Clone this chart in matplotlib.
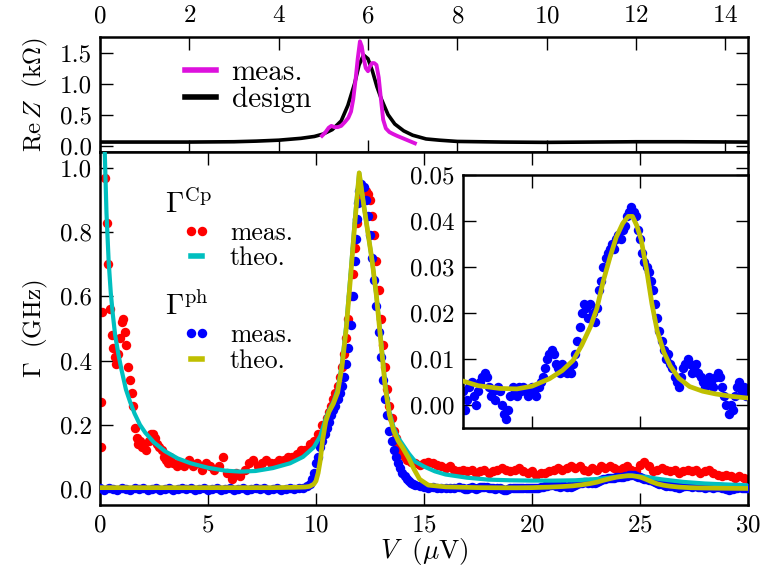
import matplotlib
matplotlib.use("Agg")
import matplotlib.pyplot as plt
from matplotlib.lines import Line2D
from matplotlib.ticker import FormatStrFormatter, MultipleLocator

# ---------------- data ----------------
# Re Z of the environment versus frequency (GHz)
f_design = [0.0, 1.0, 2.0, 3.0, 3.5, 4.0, 4.5, 4.8, 5.0, 5.2, 5.4, 5.55, 5.7, 5.8,
            5.9, 6.0, 6.1, 6.2, 6.3, 6.45, 6.6, 6.8, 7.0, 7.3, 7.6, 8.0, 9.0, 10.0,
            11.0, 12.0, 13.0, 14.51]
z_design = [0.06, 0.06, 0.06, 0.065, 0.075, 0.09, 0.12, 0.15, 0.19, 0.26, 0.40, 0.65,
            1.00, 1.30, 1.46, 1.40, 1.20, 0.95, 0.75, 0.50, 0.35, 0.24, 0.17, 0.11,
            0.09, 0.07, 0.06, 0.055, 0.06, 0.065, 0.065, 0.06]
f_meas = [4.97, 5.05, 5.12, 5.18, 5.25, 5.32, 5.40, 5.48, 5.56, 5.62, 5.67, 5.72,
          5.77, 5.82, 5.86, 5.90, 5.95, 6.00, 6.04, 6.09, 6.14, 6.19, 6.24, 6.29,
          6.34, 6.40, 6.48, 6.56, 6.65, 6.75, 6.85, 6.95, 7.05]
z_meas = [0.16, 0.22, 0.29, 0.32, 0.30, 0.30, 0.32, 0.38, 0.45, 0.55, 0.75, 1.05,
          1.40, 1.68, 1.60, 1.42, 1.25, 1.20, 1.27, 1.33, 1.33, 1.30, 1.10, 0.75,
          0.42, 0.28, 0.22, 0.19, 0.16, 0.13, 0.10, 0.07, 0.04]

# Cooper-pair rate: measured points and theory (V in uV, rate in GHz)
cp_v = [0.03, 0.06, 0.09, 0.23, 0.31, 0.39, 0.46, 0.55, 0.62, 0.69, 0.76, 0.84, 0.92,
        1.0, 1.07, 1.15, 1.22, 1.3, 1.38, 1.46, 1.54, 1.62, 1.7, 1.78, 1.86, 1.95,
        2.05, 2.15, 2.25, 2.35, 2.45, 2.55, 2.65, 2.75, 2.85, 2.95, 3.05, 3.15, 3.25,
        3.4, 3.55, 3.7, 3.9, 4.1, 4.3, 4.5, 4.7, 4.9, 5.1, 5.3, 5.5, 5.7, 5.9, 6.1,
        6.3, 6.5, 6.7, 6.9, 7.1, 7.3, 7.5, 7.7, 7.9, 8.1, 8.3, 8.5, 8.7, 8.9, 9.1,
        9.3, 9.5, 9.7, 9.9, 10.1, 10.3, 10.5, 10.6, 10.7, 10.8, 10.9, 11.0, 11.1,
        11.2, 11.3, 11.4, 11.5, 11.6, 11.7, 11.8, 11.9, 12.0, 12.1, 12.2, 12.3,
        12.4, 12.5, 12.6, 12.7, 12.8, 12.9, 13.0, 13.1, 13.2, 13.3, 13.4, 13.5,
        13.6, 13.7, 13.8, 13.9, 14.0, 14.1, 14.2, 14.4, 14.6, 14.8, 15.0, 15.2,
        15.4, 15.6, 15.8, 16.0, 16.2, 16.4, 16.6, 16.8, 17.0, 17.2, 17.4, 17.6,
        17.8, 18.0, 18.2, 18.4, 18.6, 18.8, 19.0, 19.2, 19.4, 19.6, 19.8, 20.0,
        20.2, 20.4, 20.6, 20.8, 21.0, 21.2, 21.4, 21.6, 21.8, 22.0, 22.2, 22.4,
        22.6, 22.8, 23.0, 23.2, 23.4, 23.6, 23.8, 24.0, 24.2, 24.4, 24.6, 24.8,
        25.0, 25.2, 25.4, 25.6, 25.8, 26.0, 26.2, 26.4, 26.6, 26.8, 27.0, 27.2,
        27.4, 27.6, 27.8, 28.0, 28.2, 28.4, 28.6, 28.8, 29.0, 29.2, 29.4, 29.6,
        29.8, 30.0]
cp_meas = [0.13, 0.27, 0.55, 0.97, 0.83, 0.70, 0.56, 0.48, 0.44, 0.41, 0.39, 0.42,
           0.47, 0.52, 0.53, 0.49, 0.45, 0.38, 0.34, 0.30, 0.26, 0.19, 0.16, 0.14,
           0.15, 0.13, 0.14, 0.12, 0.15, 0.17, 0.17, 0.16, 0.14, 0.13, 0.12, 0.10,
           0.09, 0.08, 0.10, 0.08, 0.07, 0.08, 0.07, 0.09, 0.07, 0.08, 0.06, 0.08,
           0.07, 0.06, 0.07, 0.10, 0.05, 0.03, 0.05, 0.04, 0.06, 0.08, 0.09, 0.07,
           0.08, 0.09, 0.08, 0.08, 0.09, 0.09, 0.10, 0.10, 0.11, 0.12, 0.12, 0.14,
           0.15, 0.17, 0.20, 0.22, 0.24, 0.26, 0.28, 0.30, 0.32, 0.35, 0.38, 0.42,
           0.47, 0.53, 0.60, 0.67, 0.75, 0.83, 0.90, 0.93, 0.92, 0.93, 0.92, 0.90,
           0.85, 0.79, 0.71, 0.62, 0.53, 0.45, 0.38, 0.31, 0.26, 0.22, 0.18, 0.16,
           0.14, 0.12, 0.11, 0.10, 0.09, 0.085, 0.08, 0.075, 0.08, 0.085, 0.08,
           0.075, 0.07, 0.065, 0.07, 0.06, 0.055, 0.06, 0.055, 0.06, 0.05, 0.055,
           0.06, 0.05, 0.055, 0.06, 0.065, 0.06, 0.055, 0.06, 0.065, 0.055, 0.05,
           0.055, 0.045, 0.05, 0.05, 0.055, 0.06, 0.065, 0.06, 0.065, 0.07, 0.065,
           0.07, 0.06, 0.055, 0.065, 0.06, 0.07, 0.065, 0.07, 0.065, 0.06, 0.065,
           0.07, 0.06, 0.055, 0.075, 0.085, 0.07, 0.055, 0.06, 0.065, 0.06, 0.055,
           0.06, 0.05, 0.055, 0.06, 0.055, 0.06, 0.05, 0.055, 0.06, 0.05, 0.045,
           0.04, 0.045, 0.04, 0.035, 0.04, 0.035, 0.03]
cp_theo_v = [0.15, 0.22, 0.3, 0.4, 0.5, 0.6, 0.7, 0.85, 1.0, 1.2, 1.4, 1.6, 1.85,
             2.1, 2.5, 3.0, 3.6, 4.2, 5.0, 5.8, 6.5, 7.2, 8.0, 8.8, 9.4, 9.9, 10.2,
             10.45, 10.6, 10.8, 11.0, 11.2, 11.4, 11.6, 11.8, 12.0, 12.2, 12.4, 12.6,
             12.8, 13.0, 13.2, 13.4, 13.6, 13.8, 14.0, 14.3, 14.6, 15.0, 15.5, 16.0,
             17.0, 18.0, 19.0, 20.0, 21.0, 22.0, 23.0, 23.8, 24.5, 25.2, 26.0, 27.0,
             28.0, 29.0, 30.0]
cp_theo = [1.30, 1.05, 0.86, 0.71, 0.61, 0.54, 0.48, 0.42, 0.37, 0.31, 0.27, 0.235,
           0.20, 0.175, 0.145, 0.118, 0.095, 0.08, 0.066, 0.057, 0.054, 0.056, 0.065,
           0.08, 0.10, 0.13, 0.165, 0.22, 0.245, 0.27, 0.31, 0.39, 0.51, 0.67, 0.84,
           0.985, 0.89, 0.80, 0.71, 0.60, 0.47, 0.33, 0.24, 0.19, 0.16, 0.14, 0.11,
           0.085, 0.07, 0.055, 0.045, 0.035, 0.029, 0.027, 0.026, 0.026, 0.027,
           0.031, 0.037, 0.042, 0.038, 0.030, 0.022, 0.017, 0.014, 0.011]

# Photon emission rate: measured points and theory
ph_v = [0.0, 0.2, 0.4, 0.6, 0.8, 1.0, 1.2, 1.4, 1.6, 1.8, 2.0, 2.2, 2.4, 2.6, 2.8,
        3.0, 3.2, 3.4, 3.6, 3.8, 4.0, 4.2, 4.4, 4.6, 4.8, 5.0, 5.2, 5.4, 5.6, 5.8,
        6.0, 6.2, 6.4, 6.6, 6.8, 7.0, 7.2, 7.4, 7.6, 7.8, 8.0, 8.2, 8.4, 8.6, 8.8,
        9.0, 9.2, 9.4, 9.6, 9.7, 9.8, 9.9, 10.0, 10.1, 10.2, 10.3, 10.4, 10.5, 10.6,
        10.7, 10.8, 10.9, 11.0, 11.1, 11.2, 11.3, 11.4, 11.5, 11.6, 11.7, 11.8,
        11.85, 11.9, 11.95, 12.0, 12.1, 12.2, 12.3, 12.4, 12.5, 12.6, 12.7, 12.8,
        12.9, 13.0, 13.1, 13.2, 13.3, 13.4, 13.5, 13.6, 13.7, 13.8, 13.9, 14.0,
        14.1, 14.2, 14.3, 14.4, 14.5, 14.6, 14.8, 15.0, 15.2, 15.4, 15.6, 15.8,
        16.0, 16.2, 16.4, 16.6, 16.8, 16.9, 17.0, 17.1, 17.2, 17.3, 17.4, 17.5,
        17.6, 17.7, 17.8, 17.9, 18.0, 18.1, 18.2, 18.3, 18.4, 18.5, 18.6, 18.7,
        18.8, 18.9, 19.0, 19.1, 19.2, 19.3, 19.4, 19.5, 19.6, 19.7, 19.8, 19.9,
        20.0, 20.1, 20.2, 20.3, 20.4, 20.5, 20.6, 20.7, 20.8, 20.9, 21.0, 21.1,
        21.2, 21.3, 21.4, 21.5, 21.6, 21.7, 21.8, 21.9, 22.0, 22.1, 22.2, 22.3,
        22.4, 22.5, 22.6, 22.7, 22.8, 22.9, 23.0, 23.1, 23.2, 23.3, 23.4, 23.5,
        23.6, 23.7, 23.8, 23.9, 24.0, 24.1, 24.2, 24.3, 24.4, 24.5, 24.6, 24.7,
        24.8, 24.9, 25.0, 25.1, 25.2, 25.3, 25.4, 25.5, 25.6, 25.7, 25.8, 25.9,
        26.0, 26.1, 26.2, 26.3, 26.4, 26.5, 26.6, 26.7, 26.8, 26.9, 27.0, 27.1,
        27.2, 27.3, 27.4, 27.5, 27.6, 27.7, 27.8, 27.9, 28.0, 28.1, 28.2, 28.3,
        28.4, 28.5, 28.6, 28.7, 28.8, 28.9, 29.0, 29.1, 29.2, 29.3, 29.4, 29.5,
        29.6, 29.7, 29.8, 29.9, 30.0]
ph_meas = [0.003, -0.004, 0.002, 0.000, -0.003, 0.004, 0.001, -0.002, 0.003, -0.001,
           0.002, -0.004, 0.000, 0.003, -0.002, 0.001, 0.004, -0.003, 0.000, 0.002,
           -0.001, 0.003, -0.004, 0.001, 0.002, -0.002, 0.000, 0.004, -0.003, 0.001,
           0.003, -0.002, 0.000, 0.002, -0.004, 0.001, 0.003, -0.001, 0.002, -0.003,
           0.000, 0.004, -0.002, 0.001, 0.003, -0.001, 0.002, 0.004, 0.008, 0.015,
           0.030, 0.050, 0.080, 0.100, 0.130, 0.150, 0.170, 0.190, 0.210, 0.230,
           0.245, 0.260, 0.280, 0.300, 0.320, 0.350, 0.390, 0.440, 0.510, 0.600,
           0.710, 0.780, 0.840, 0.890, 0.930, 0.950, 0.940, 0.900, 0.850, 0.790,
           0.720, 0.650, 0.570, 0.490, 0.410, 0.340, 0.280, 0.230, 0.180, 0.150,
           0.120, 0.100, 0.080, 0.065, 0.050, 0.040, 0.032, 0.025, 0.020, 0.015,
           0.011, 0.008, 0.006, 0.004, 0.005, 0.003, 0.004, 0.002, 0.004, 0.003,
           0.005, 0.003, -0.001, 0.001, 0.004, 0.005, 0.002, 0.000, 0.003, 0.005,
           0.006, 0.007, 0.006, 0.004, 0.002, 0.003, 0.001, 0.004, 0.003, 0.000,
           -0.002, -0.003, -0.001, 0.002, 0.004, 0.003, 0.002, 0.004, 0.003, 0.004,
           0.003, 0.002, 0.003, 0.004, 0.003, 0.002, 0.004, 0.005, 0.006, 0.008,
           0.010, 0.011, 0.012, 0.011, 0.009, 0.008, 0.007, 0.009, 0.008, 0.007,
           0.008, 0.007, 0.009, 0.011, 0.014, 0.017, 0.020, 0.022, 0.021, 0.019,
           0.022, 0.020, 0.018, 0.021, 0.025, 0.027, 0.030, 0.032, 0.033, 0.034,
           0.035, 0.034, 0.036, 0.037, 0.036, 0.038, 0.039, 0.041, 0.042, 0.043,
           0.042, 0.041, 0.038, 0.036, 0.033, 0.031, 0.030, 0.029, 0.027, 0.025,
           0.022, 0.019, 0.016, 0.014, 0.012, 0.010, 0.011, 0.009, 0.008, 0.006,
           0.005, 0.004, 0.006, 0.008, 0.009, 0.010, 0.009, 0.007, 0.008, 0.009,
           0.007, 0.006, 0.005, 0.004, 0.005, 0.006, 0.005, 0.004, 0.006, 0.007,
           0.006, 0.004, 0.002, 0.000, -0.002, 0.000, -0.001, 0.002, 0.004, 0.005,
           0.003, 0.004, 0.002, 0.003]
ph_theo_v = [0.0, 2.0, 4.0, 6.0, 8.0, 9.0, 9.5, 9.7, 9.9, 10.0, 10.1, 10.2, 10.3,
             10.45, 10.6, 10.8, 11.0, 11.2, 11.4, 11.6, 11.8, 12.0, 12.2, 12.4, 12.6,
             12.8, 13.0, 13.2, 13.4, 13.6, 13.8, 14.0, 14.3, 14.55, 14.8, 15.2, 16.0,
             16.8, 17.5, 18.5, 19.3, 20.0, 20.8, 21.4, 21.9, 22.3, 22.7, 23.0, 23.3,
             23.6, 23.9, 24.2, 24.45, 24.65, 24.85, 25.05, 25.3, 25.55, 25.8, 26.1,
             26.4, 26.8, 27.3, 27.9, 28.5, 29.2, 30.0]
ph_theo = [0.004, 0.004, 0.004, 0.004, 0.004, 0.005, 0.006, 0.008, 0.015, 0.025, 0.05,
           0.09, 0.15, 0.21, 0.24, 0.265, 0.30, 0.38, 0.50, 0.66, 0.83, 0.985, 0.89,
           0.80, 0.71, 0.60, 0.46, 0.32, 0.23, 0.18, 0.15, 0.13, 0.095, 0.06, 0.03,
           0.012, 0.0065, 0.0052, 0.0042, 0.0036, 0.0035, 0.0041, 0.0057, 0.0075,
           0.0097, 0.013, 0.017, 0.021, 0.027, 0.032, 0.0365, 0.0395, 0.041, 0.041,
           0.039, 0.036, 0.0295, 0.022, 0.016, 0.0115, 0.0085, 0.0058, 0.004, 0.003,
           0.0024, 0.0019, 0.0015]

# ---------------- style ----------------
plt.rcParams.update({
    "font.family": "serif",
    "font.serif": ["cmr10"],
    "mathtext.fontset": "cm",
    "axes.formatter.use_mathtext": True,
    "font.size": 18,
    "axes.labelsize": 18,
    "axes.linewidth": 1.8,
    "xtick.direction": "in",
    "ytick.direction": "in",
    "xtick.top": True,
    "ytick.right": True,
    "xtick.major.size": 9,
    "ytick.major.size": 9,
    "xtick.major.width": 1.0,
    "ytick.major.width": 1.0,
    "xtick.major.pad": 7,
    "ytick.major.pad": 6,
})

RED = "#ff0000"
BLUE = "#0000ff"
CYAN = (0.0, 0.75, 0.75)
OLIVE = (0.75, 0.75, 0.0)
MAGENTA = "#dd11dd"
MS = 6.8

fig = plt.figure(figsize=(7.72, 5.70), dpi=100)
W, H = 772.0, 570.0


def box(x0, y0, x1, y1):
    return [x0 / W, 1 - y1 / H, (x1 - x0) / W, (y1 - y0) / H]


ax_z = fig.add_axes(box(100, 37, 748, 152))
ax = fig.add_axes(box(100, 152, 748, 505))
ax_in = fig.add_axes(box(463, 175, 748, 428))

# ---- top panel: Re Z ----
ax_z.plot(f_design, z_design, color="black", lw=2.6, label="design", zorder=2)
ax_z.plot(f_meas, z_meas, color=MAGENTA, lw=2.8, label="meas.", zorder=3)
ax_z.set_xlim(0, 30 * 0.48360)
ax_z.set_ylim(-0.1, 1.75)
ax_z.xaxis.set_major_locator(MultipleLocator(2))
ax_z.set_yticks([0.0, 0.5, 1.0, 1.5])
ax_z.yaxis.set_major_formatter(FormatStrFormatter("%.1f"))
ax_z.tick_params(labeltop=True, labelbottom=False)
ax_z.set_ylabel(r"$\mathrm{Re}\,Z\ \ (\mathrm{k}\Omega)$")
ax_z.yaxis.set_label_coords(-0.077, 0.5)
h_meas = Line2D([], [], color=MAGENTA, lw=4)
h_des = Line2D([], [], color="black", lw=4)
ax_z.legend([h_meas, h_des], ["meas.", "design"], loc="upper left",
            bbox_to_anchor=(0.131, 0.80), frameon=False, borderpad=0,
            borderaxespad=0, handlelength=1.05, handletextpad=0.55,
            labelspacing=0.0, fontsize=21)

# ---- bottom panel: rates ----
ax.plot(cp_v, cp_meas, "o", color=RED, ms=MS, mew=0, zorder=2)
ax.plot(ph_v, ph_meas, "o", color=BLUE, ms=MS, mew=0, zorder=3)
ax.plot(cp_theo_v, cp_theo, color=CYAN, lw=3.0, zorder=4)
ax.plot(ph_theo_v, ph_theo, color=OLIVE, lw=3.4, zorder=5)
ax.set_xlim(0, 30)
ax.set_ylim(-0.05, 1.05)
ax.xaxis.set_major_locator(MultipleLocator(5))
ax.yaxis.set_major_locator(MultipleLocator(0.2))
ax.yaxis.set_major_formatter(FormatStrFormatter("%.1f"))
ax.set_xlabel(r"$V\ \ (\mu\mathrm{V})$", fontsize=19.5)
ax.xaxis.set_label_coords(0.5, -0.088)
ax.set_ylabel(r"$\Gamma\ \ (\mathrm{GHz})$")
ax.yaxis.set_label_coords(-0.077, 0.5)

dot = dict(marker="o", ls="none", ms=MS, mew=0)
leg_kw = dict(loc="upper left", frameon=False, borderpad=0, borderaxespad=0,
              numpoints=2, handlelength=1.05, handletextpad=0.78,
              labelspacing=0.08, fontsize=18.5)
leg1 = ax.legend([Line2D([], [], color=RED, **dot), Line2D([], [], color=CYAN, lw=4)],
                 ["meas.", "theo."], bbox_to_anchor=(0.128, 0.805), **leg_kw)
ax.add_artist(leg1)
ax.legend([Line2D([], [], color=BLUE, **dot), Line2D([], [], color=OLIVE, lw=4)],
          ["meas.", "theo."], bbox_to_anchor=(0.128, 0.515), **leg_kw)
ax.text(0.100, 0.827, r"$\Gamma^{\mathrm{Cp}}$", transform=ax.transAxes,
        va="baseline", ha="left", fontsize=21)
ax.text(0.100, 0.538, r"$\Gamma^{\mathrm{ph}}$", transform=ax.transAxes,
        va="baseline", ha="left", fontsize=21)

# ---- inset: photon rate around the second resonance ----
ax_in.plot(ph_v, ph_meas, "o", color=BLUE, ms=MS, mew=0, zorder=2)
ax_in.plot(ph_theo_v, ph_theo, color=OLIVE, lw=3.4, zorder=3)
ax_in.set_xlim(16.8, 30)
ax_in.set_ylim(-0.005, 0.05)
ax_in.set_xticks([20, 25])
ax_in.tick_params(labelbottom=False)
ax_in.yaxis.set_major_locator(MultipleLocator(0.01))
ax_in.yaxis.set_major_formatter(FormatStrFormatter("%.2f"))

fig.savefig("out.png", dpi=100)
